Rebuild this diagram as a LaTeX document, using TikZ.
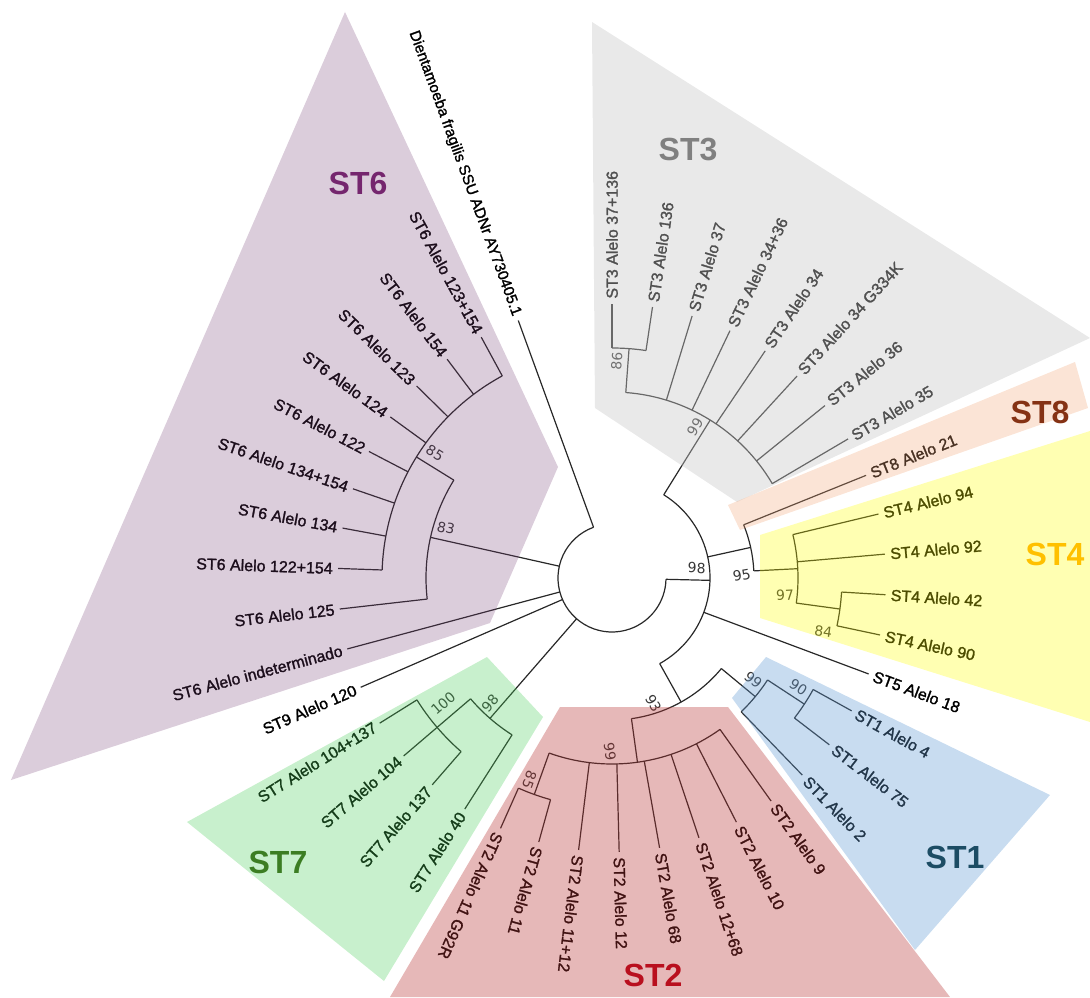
\documentclass[tikz,border=0pt]{standalone}
\usepackage{fontspec}
\setmainfont{Liberation Sans}
\newfontfamily\leaffont[FakeBold=1.5]{Liberation Sans}
\newfontfamily\bootfont{DejaVu Sans}
\definecolor{BranchGray}{RGB}{40,40,40}
\definecolor{BootGray}{RGB}{55,55,55}
\definecolor{TintSix}{RGB}{112,56,112}
\definecolor{TintThree}{RGB}{200,200,200}
\definecolor{TintEight}{RGB}{242,165,118}
\definecolor{TintFour}{RGB}{255,255,0}
\definecolor{TintOne}{RGB}{98,155,212}
\definecolor{TintTwo}{RGB}{184,52,52}
\definecolor{TintSeven}{RGB}{72,205,88}
\definecolor{TagSix}{RGB}{117,38,110}
\definecolor{TagThree}{RGB}{128,128,128}
\definecolor{TagEight}{RGB}{133,50,20}
\definecolor{TagFour}{RGB}{255,192,0}
\definecolor{TagOne}{RGB}{28,76,100}
\definecolor{TagTwo}{RGB}{185,15,30}
\definecolor{TagSeven}{RGB}{60,125,35}
\tikzset{
  branch/.style={draw=BranchGray, line width=0.6pt},
  leaflabel/.style={font=\leaffont\fontsize{8}{8}\selectfont, inner sep=0pt, text=black},
  boot/.style={font=\bootfont\fontsize{7}{7}\selectfont, text=BootGray, inner sep=0pt},
  cladetag/.style={font=\bfseries\fontsize{16}{16}\selectfont, inner sep=0pt},
  tint/.style={fill=#1, draw=none}
}
% inner node: name, angle, radius of parent, own radius
\newcommand{\clade}[4]{%
  \coordinate (#1-b) at (#2:#3);
  \coordinate (#1) at (#2:#4);
  \draw[branch] (#1-b) -- (#1);}
% arc of an inner node: from, to, radius
\newcommand{\cladearc}[3]{%
  \draw[branch] (#1:#3) arc[start angle=#1, end angle=#2, radius=#3];}

\begin{document}
\begin{tikzpicture}[x=0.5pt, y=0.5pt]
  \useasboundingbox (-612,-419) rectangle (478,578);

  \cladearc{110}{358.625}{54}
  \clade{r98}{-1.375}{54}{98}
  \cladearc{-60.875}{58.125}{98}
  \clade{c3}{58.125}{98}{186}
  \cladearc{30.5}{85.75}{186}
  \clade{c86}{85.75}{186}{230}
  \cladearc{81.5}{90}{230}
  \clade{c95}{12.4375}{98}{142}
  \cladearc{2.875}{22}{142}
  \clade{c97}{2.875}{142}{186}
  \cladearc{-7.75}{13.5}{186}
  \clade{c84}{-7.75}{186}{230}
  \cladearc{-12}{-3.5}{230}
  \clade{c93}{-60.875}{98}{142}
  \cladearc{-82.125}{-39.625}{142}
  \clade{c1}{-39.625}{142}{186}
  \cladearc{-46}{-33.25}{186}
  \clade{c90}{-33.25}{186}{230}
  \cladearc{-37.5}{-29}{230}
  \clade{c2}{-82.125}{142}{186}
  \cladearc{-109.75}{-54.5}{186}
  \clade{c85b}{-109.75}{186}{230}
  \cladearc{-114}{-105.5}{230}
  \clade{c7}{229}{54}{186}
  \cladearc{220.5}{237.5}{186}
  \clade{c100}{220.5}{186}{230}
  \cladearc{212}{229}{230}
  \clade{c83}{167.375}{54}{186}
  \cladearc{148.25}{186.5}{186}
  \clade{c85}{148.25}{186}{230}
  \cladearc{118.5}{178}{230}

  \foreach \k/\nm/\rp/\txt in {
      0/s3a/230/{ST3 Alelo 37+136}, 1/s3b/230/{ST3 Alelo 136},
      2/s3c/186/{ST3 Alelo 37}, 3/s3d/186/{ST3 Alelo 34+36},
      4/s3e/186/{ST3 Alelo 34}, 5/s3f/186/{ST3 Alelo 34 G334K},
      6/s3g/186/{ST3 Alelo 36}, 7/s3h/186/{ST3 Alelo 35},
      8/s8a/142/{ST8 Alelo 21},
      9/s4a/186/{ST4 Alelo 94}, 10/s4b/186/{ST4 Alelo 92},
      11/s4c/230/{ST4 Alelo 42}, 12/s4d/230/{ST4 Alelo 90},
      13/s5a/98/{ST5 Alelo 18},
      14/s1a/230/{ST1 Alelo 4}, 15/s1b/230/{ST1 Alelo 75},
      16/s1c/186/{ST1 Alelo 2},
      17/s2a/186/{ST2 Alelo 9}, 18/s2b/186/{ST2 Alelo 10},
      19/s2c/186/{ST2 Alelo 12+68}, 20/s2d/186/{ST2 Alelo 68},
      21/s2e/186/{ST2 Alelo 12}, 22/s2f/186/{ST2 Alelo 11+12},
      23/s2g/230/{ST2 Alelo 11}, 24/s2h/230/{ST2 Alelo 11 G92R},
      25/s7a/186/{ST7 Alelo 40}, 26/s7b/230/{ST7 Alelo 137},
      27/s7c/230/{ST7 Alelo 104}, 28/s7d/230/{ST7 Alelo 104+137},
      29/s9a/54/{ST9 Alelo 120},
      30/s6a/54/{ST6 Alelo indeterminado}, 31/s6b/186/{ST6 Alelo 125},
      32/s6c/230/{ST6 Alelo 122+154}, 33/s6d/230/{ST6 Alelo 134},
      34/s6e/230/{ST6 Alelo 134+154}, 35/s6f/230/{ST6 Alelo 122},
      36/s6g/230/{ST6 Alelo 124}, 37/s6h/230/{ST6 Alelo 123},
      38/s6i/230/{ST6 Alelo 154}, 39/s6j/230/{ST6 Alelo 123+154},
      40/dfr/54/{\fontsize{7.6}{7.6}\selectfont Dientamoeba fragilis SSU ADNr AY730405.1}}{
    \pgfmathsetmacro\leafang{90-8.5*\k}
    \coordinate (\nm-b) at (\leafang:\rp);
    \coordinate (\nm) at (\leafang:274);
    \draw[branch] (\nm-b) -- (\nm);
    \ifnum\k<25
      \node[leaflabel, anchor=west, rotate=\leafang] (\nm-t) at (\leafang:279) {\txt};
    \else
      \node[leaflabel, anchor=east, rotate=\leafang+180] (\nm-t) at (\leafang:279) {\txt};
    \fi
  }

  \node[boot, rotate=-12.6] (b83) at (-166,50) {83};
  \node[boot, rotate=-31.75] (b85) at (-177,125) {85};
  \node[boot, rotate=85.75] (b86) at (4.7,217) {86};
  \node[boot, rotate=58] (b99c) at (83,151) {99};
  \node[boot, rotate=-1.4] (b98) at (84.7,10) {98};
  \node[boot, rotate=10] (b95) at (129.7,3) {95};
  \node[boot, rotate=2.9] (b97) at (173,-17) {97};
  \node[boot, rotate=-7.75] (b84) at (211.3,-53.7) {84};
  \node[boot, rotate=-60.9] (b93) at (41.3,-125.3) {93};
  \node[boot, rotate=-39.6] (b99b) at (141.3,-102) {99};
  \node[boot, rotate=-33.25] (b90) at (186.3,-109.3) {90};
  \node[boot, rotate=-82] (b99a) at (-2,-173.7) {99};
  \node[boot, rotate=-109.75] (b85b) at (-82.7,-202) {85};
  \node[boot, rotate=49] (b98g) at (-122,-125.3) {98};
  \node[boot, rotate=40.5] (b100) at (-168.7,-125.3) {100};

  \fill[tint=TintSix, fill opacity=0.25] (-267,566) -- (-54,111) -- (-122,-45) -- (-601,-202) -- cycle;
  \fill[tint=TintThree, fill opacity=0.4] (-20,556) -- (478,240) -- (125,76) -- (-17,170) -- cycle;
  \fill[tint=TintEight, fill opacity=0.3] (116,73) -- (463,216) -- (476,170) -- (128,48) -- cycle;
  \fill[tint=TintFour, fill opacity=0.3] (148,43) -- (478,147) -- (478,-144) -- (148,-40) -- cycle;
  \fill[tint=TintOne, fill opacity=0.35] (154,-79) -- (438,-217) -- (303,-372) -- (120,-120) -- cycle;
  \fill[tint=TintTwo, fill opacity=0.35] (-52,-129) -- (116,-129) -- (338,-419) -- (-222,-419) -- cycle;
  \fill[tint=TintSeven, fill opacity=0.3] (-125,-79) -- (-69,-139) -- (-228,-403) -- (-425,-244) -- cycle;

  \node[cladetag, text=TagSix] (tag6) at (-254,395) {ST6};
  \node[cladetag, text=TagThree] (tag3) at (76,428) {ST3};
  \node[cladetag, text=TagEight] (tag8) at (428,166) {ST8};
  \node[cladetag, text=TagFour] (tag4) at (443,24) {ST4};
  \node[cladetag, text=TagOne] (tag1) at (343,-279) {ST1};
  \node[cladetag, text=TagTwo] (tag2) at (41,-397) {ST2};
  \node[cladetag, text=TagSeven] (tag7) at (-334,-284) {ST7};
\end{tikzpicture}
\end{document}
